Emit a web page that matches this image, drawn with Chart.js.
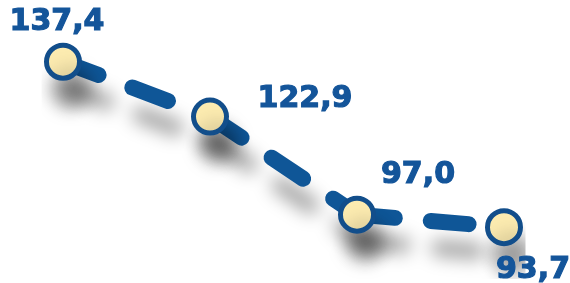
<!DOCTYPE html>
<html>
<head>
<meta charset="utf-8">
<script src="https://cdn.jsdelivr.net/npm/chart.js@4/dist/chart.umd.min.js"></script>
<style>
  html, body { margin: 0; padding: 0; background: #fff; }
  #wrap { width: 570px; height: 283px; }
</style>
</head>
<body>
<div id="wrap"><canvas id="chart" width="570" height="283"></canvas></div>
<script>
const categories = ["1", "2", "3", "4"];
const values = [137.4, 122.9, 97.0, 93.7];

// where each value label sits relative to its point (px)
const labelOffsets = [[-6, -39], [95, -17], [61, -39], [29, 43]];

const shadowPlugin = {
  id: "shadow",
  beforeDatasetsDraw(chart) {
    const ctx = chart.ctx;
    ctx.save();
    ctx.shadowColor = "rgba(0, 0, 0, 0.38)";
    ctx.shadowBlur = 18;
    ctx.shadowOffsetX = 8;
    ctx.shadowOffsetY = 27;
  },
  afterDatasetsDraw(chart) {
    chart.ctx.restore();
  }
};

const valueLabels = {
  id: "valueLabels",
  afterDraw(chart) {
    const ctx = chart.ctx;
    const pts = chart.getDatasetMeta(0).data;
    ctx.save();
    ctx.font = "bold 30px 'DejaVu Sans'";
    ctx.fillStyle = "#14559a";
    ctx.strokeStyle = "#14559a";
    ctx.lineWidth = 1.2;
    ctx.textAlign = "center";
    ctx.textBaseline = "middle";
    pts.forEach((p, i) => {
      const txt = values[i].toFixed(1).replace(".", ",");
      const x = p.x + labelOffsets[i][0], y = p.y + labelOffsets[i][1];
      ctx.fillText(txt, x, y);
      ctx.strokeText(txt, x, y);
    });
    ctx.restore();
  }
};

new Chart(document.getElementById("chart").getContext("2d"), {
  type: "line",
  data: {
    labels: categories,
    datasets: [{
      data: values,
      borderColor: "#0f5697",
      borderWidth: 16,
      borderDash: [38, 36],
      borderCapStyle: "round",
      tension: 0,
      // tiny per-segment offset so every segment is stroked on its own and the dashes restart at each point
      segment: { borderDashOffset: c => c.p0DataIndex * 0.001 },
      pointRadius: 16.5,
      pointHoverRadius: 16.5,
      pointBorderWidth: 5,
      pointBackgroundColor: "#fcebb0",
      pointBorderColor: "#124e8b"
    }]
  },
  options: {
    responsive: false,
    animation: false,
    layout: { autoPadding: false, padding: { left: 63, right: 66, top: 14, bottom: 4 } },
    plugins: { legend: { display: false }, tooltip: { enabled: false } },
    scales: {
      x: { display: false, offset: false },
      y: { display: false, min: 80, max: 150 }
    }
  },
  plugins: [shadowPlugin, valueLabels]
});
</script>
</body>
</html>
